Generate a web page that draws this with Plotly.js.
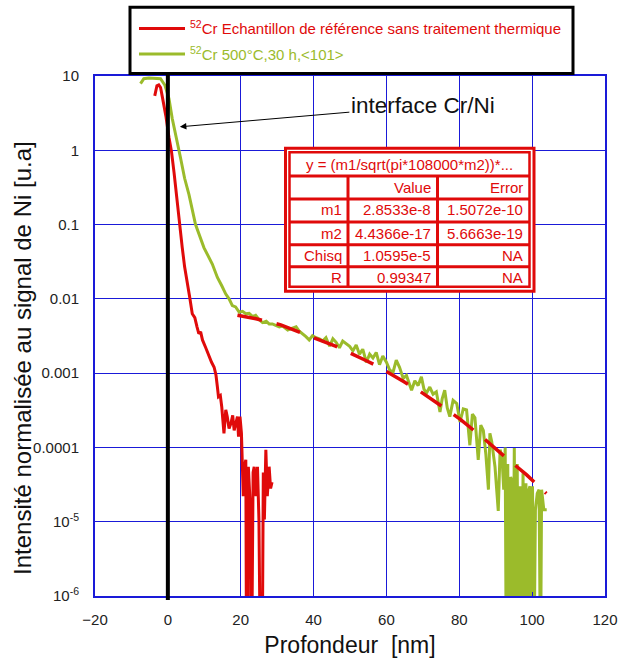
<!DOCTYPE html>
<html>
<head>
<meta charset="utf-8">
<script src="https://cdn.plot.ly/plotly-3.0.1.min.js"></script>
<style>html,body{margin:0;padding:0;background:#fff;}#chart{width:621px;height:666px;}</style>
</head>
<body>
<div id="chart"></div>
<script>
// ---------- data ----------
const xRef = [-3.6,-3.0,-2.5,-2.0,-1.5,-0.5,0.3,1.0,1.7,2.3,3.1,3.95,4.6,5.3,6.0,6.7,7.4,8.0,8.5,9.0,9.5,10.4,11.3,12.0,12.7,13.2,13.6,13.9,14.4,14.8,15.4,15.9,16.3,16.8,17.3,17.8,18.2,18.7,19.1,19.4,19.8,20.2,20.4,20.7,21.0,21.4,21.6,22.0,22.1,22.5,22.8,23.0,23.4,23.7,24.2,24.6,25.0,25.4,25.9,26.2,26.5,26.9,27.3,27.8,28.2,28.6];
const yRef = [5.4,7.4,7.6,7.0,5.2,2.8,1.5,0.96,0.5,0.255,0.11,0.049,0.027,0.0174,0.0105,0.0063,0.0056,0.0042,0.0034,0.0036,0.0028,0.0022,0.00166,0.0014,0.0012,0.00095,0.00065,0.00048,0.0005,0.00035,0.000155,0.00032,0.00026,0.00018,0.00021,0.00027,0.00017,0.00023,0.00026,0.00014,0.00026,0.000155,5.5e-5,2.2e-5,5.5e-5,6.8e-5,1e-7,1e-7,5.5e-5,2.2e-5,1.07e-5,1e-7,4.6e-5,5.5e-5,2.2e-5,5.5e-5,1.07e-5,1e-7,1e-7,4.6e-5,1.07e-5,9.3e-5,2.2e-5,5.5e-5,2.8e-5,3.4e-5];

const x500 = [-7.5,-6.6,-5.2,-3.6,-2.0,-0.8,0.3,1.2,2.1,3.5,4.6,5.8,7.6,8.8,9.9,12.2,13.6,14.8,15.9,16.8,17.7,18.6,19.6,20.5,21.4,22.3,23.2,24.1,25.0,26.0,27.0,27.8,28.7,29.6,30.6,31.5,32.9,34.0,35.2,36.0,37.0,37.9,38.8,39.7,40.7,41.6,42.5,43.4,44.4,45.3,46.2,47.1,48.0,49.0,49.9,50.8,51.7,52.6,53.5,54.5,55.4,56.3,57.2,58.1,59.0,60.0,60.9,61.8,62.7,63.6,64.6,65.5,66.9,67.8,68.7,69.6,70.3,71.0,71.9,72.8,73.7,74.7,75.3,76.0,76.7,77.4,78.3,79.3,80.2,81.1,82.0,82.9,83.6,84.3,85.2,85.9,86.6,87.3,88.0,88.4,88.9,89.8,90.7,91.2,91.7,92.2,92.6,92.9,93.3,93.7,94.1,94.4,94.7,95.1,95.5,95.9,96.3,96.7,97.1,97.5,97.9,98.3,98.7,99.1,99.4,99.7,100.1,100.5,100.9,101.4,101.9,102.3,102.6,103.2,104.0];
const y500 = [7.9,9.2,9.4,9.4,9.2,7.5,4.97,2.68,1.69,0.78,0.42,0.253,0.10,0.068,0.049,0.0294,0.0194,0.015,0.0116,0.0100,0.0081,0.0078,0.0066,0.0068,0.0063,0.0064,0.0058,0.0060,0.0053,0.0048,0.0050,0.0046,0.0046,0.0044,0.0042,0.0043,0.0038,0.0040,0.0042,0.0037,0.0034,0.0031,0.0028,0.0032,0.0030,0.0029,0.0027,0.0030,0.0023,0.0029,0.0026,0.0022,0.0027,0.0025,0.0023,0.0020,0.0024,0.0018,0.0021,0.0014,0.0018,0.0016,0.0019,0.0013,0.0017,0.0014,0.0011,0.00102,0.0015,0.0012,0.00085,0.00093,0.00059,0.00079,0.00068,0.00089,0.00061,0.00054,0.00065,0.00052,0.00056,0.00030,0.00045,0.00059,0.00034,0.00026,0.00043,0.00039,0.00022,0.00033,0.00032,0.000107,0.00028,0.00025,6.8e-5,0.0002,0.00017,8e-5,2.7e-5,0.000155,0.00012,5.5e-5,1.4e-5,9.3e-5,7.6e-5,2.7e-5,0.0001,1e-7,6e-5,1e-7,4e-5,3.5e-5,1e-7,9.8e-5,1e-7,6e-5,1e-7,3e-5,1e-7,4.5e-5,1e-7,3.3e-5,1e-7,2.7e-5,3e-5,1e-7,3e-5,1e-7,1.45e-5,2.4e-5,2.7e-5,1e-7,2.7e-5,1.45e-5,1.45e-5];

const xFit = [19.1,24.2,31.0,35.2,42.5,46.2,53.5,57.7,64.6,69.1,75.6,80.2,87.0,91.2,98.5,102.7,103.9];
const yFit = [0.0060,0.0054,0.00447,0.00372,0.00269,0.00229,0.00155,0.00123,0.000776,0.000575,0.000347,0.00024,0.000129,8.5e-5,4.27e-5,2.69e-5,2.4e-5];

const legendNames = ["<sup>52</sup>Cr Echantillon de référence sans traitement thermique", "<sup>52</sup>Cr 500°C,30 h,&lt;101&gt;"];
const yTickVals = [10,1,0.1,0.01,0.001,0.0001,1e-5,1e-6];
const yTickText = ["10","1","0.1","0.01","0.001","0.0001","10<sup>-5</sup>","10<sup>-6</sup>"];
const xTitle = "Profondeur  [nm]";
const yTitle = "Intensité normalisée au signal de Ni [u.a]";
const interfaceLabel = "interface Cr/Ni";
const interfacePoint = {x: 3.3, y: 2.07};

const tableTitle = "y = (m1/sqrt(pi*108000*m2))*...";
const tableHeader = ["", "Value", "Error"];
const tableRowNames = ["m1","m2","Chisq","R"];
const tableValues = ["2.8533e-8","4.4366e-17","1.0595e-5","0.99347"];
const tableErrors = ["1.5072e-10","5.6663e-19","NA","NA"];

// ---------- styling / layout ----------
const RED = "#e00a0a", GREEN = "#9bbb2b", GRID = "#1a1ad8";
const FONT = "Liberation Sans, Arial, sans-serif";
const W = 621, H = 666, ML = 95, MR = 16, MT = 74, MB = 70;
const PW = W - ML - MR, PH = H - MT - MB;
const fx = p => (p - ML) / PW;
const fy = p => (H - MB - p) / PH;
const esc = s => s.replace(/</g,"&lt;").replace(/>/g,"&gt;");

const traces = [
  {x: xRef, y: yRef, type: "scatter", mode: "lines",
   name: '<span style="color:' + RED + '">' + legendNames[0] + '</span>',
   line: {color: RED, width: 3}, legendgroup: "a"},
  {x: x500, y: y500, type: "scatter", mode: "lines",
   name: '<span style="color:' + GREEN + '">' + legendNames[1] + '</span>',
   line: {color: GREEN, width: 3}, legendgroup: "b"},
  {x: xFit, y: yFit, type: "scatter", mode: "lines", showlegend: false,
   line: {color: RED, width: 3.5, dash: "25px,15px"}}
];

const shapes = [];
const annotations = [];

// black interface line at x = 0
shapes.push({type: "line", xref: "x", yref: "paper", x0: 0, x1: 0, y0: fy(600), y1: fy(66),
  line: {color: "#000", width: 4}, layer: "above"});

// legend frame
shapes.push({type: "rect", xref: "paper", yref: "paper", x0: fx(130), x1: fx(573), y0: fy(71.5), y1: fy(5),
  line: {color: "#000", width: 3}, fillcolor: "#fff", layer: "above"});

// fit table frame
shapes.push({type: "rect", xref: "paper", yref: "paper", x0: fx(285.5), x1: fx(534), y0: fy(290), y1: fy(146.5),
  line: {color: RED, width: 3}, fillcolor: "#fff", layer: "above"});
shapes.push({type: "rect", xref: "paper", yref: "paper", x0: fx(289.5), x1: fx(529.5), y0: fy(285.5), y1: fy(150.5),
  line: {color: RED, width: 2.5}, layer: "above"});
const rowLines = [174.5, 197.5, 220.5, 243.5, 265.5];
rowLines.forEach(r => shapes.push({type: "line", xref: "paper", yref: "paper", x0: fx(289.5), x1: fx(529.5), y0: fy(r), y1: fy(r),
  line: {color: RED, width: 3}, layer: "above"}));
[348, 437.5].forEach(c => shapes.push({type: "line", xref: "paper", yref: "paper", x0: fx(c), x1: fx(c), y0: fy(285.5), y1: fy(174.5),
  line: {color: RED, width: 3}, layer: "above"}));

const tfont = {family: FONT, size: 15, color: RED};
annotations.push({xref: "paper", yref: "paper", x: fx(409.5), y: fy(162.5), text: esc(tableTitle), showarrow: false,
  xanchor: "center", yanchor: "middle", font: tfont});
const rowCenters = [185.5, 208.5, 232, 254.5, 276.5];
const colRight = [344, 433, 525];
const rows = [tableHeader].concat(tableRowNames.map((n, i) => [n, tableValues[i], tableErrors[i]]));
rows.forEach((row, ri) => row.forEach((cell, ci) => {
  if (!cell) return;
  annotations.push({xref: "paper", yref: "paper", x: fx(colRight[ci]), y: fy(rowCenters[ri]), text: cell,
    showarrow: false, xanchor: "right", yanchor: "middle", font: tfont});
}));

// interface annotation
annotations.push({x: interfacePoint.x, y: Math.log10(interfacePoint.y), xref: "x", yref: "y",
  text: interfaceLabel, showarrow: true, ax: 243, ay: -21, arrowhead: 2, arrowsize: 1.3, arrowwidth: 1,
  arrowcolor: "#000", standoff: 0,
  font: {family: FONT, size: 22.5, color: "#111"}});

// y axis title
annotations.push({xref: "paper", yref: "paper", x: fx(23), y: fy(357), text: yTitle, showarrow: false,
  textangle: -90, xanchor: "center", yanchor: "middle",
  font: {family: FONT, size: 24, color: "#111"}});

const layout = {
  width: W, height: H,
  margin: {l: ML, r: MR, t: MT, b: MB, pad: 0},
  paper_bgcolor: "#fff", plot_bgcolor: "#fff",
  font: {family: FONT, size: 15, color: "#222"},
  showlegend: true,
  legend: {x: fx(134), y: fy(10), xanchor: "left", yanchor: "top", bgcolor: "rgba(0,0,0,0)", borderwidth: 0,
    font: {size: 15, family: FONT}, itemwidth: 46, traceorder: "grouped",
    tracegroupgap: 3, itemclick: false},
  xaxis: {range: [-20, 120], dtick: 20, tick0: 0, showgrid: true, gridcolor: GRID, gridwidth: 1,
    showline: true, linecolor: GRID, linewidth: 2, mirror: true, zeroline: false,
    ticks: "inside", ticklen: 4, tickcolor: GRID, ticklabelstandoff: 9,
    tickfont: {size: 15, color: "#222"},
    title: {text: xTitle, font: {size: 23, color: "#111"}, standoff: 10}},
  yaxis: {type: "log", range: [-6, 1], tickvals: yTickVals, ticktext: yTickText,
    showgrid: true, gridcolor: GRID, gridwidth: 1,
    showline: true, linecolor: GRID, linewidth: 2, mirror: true, zeroline: false,
    ticks: "inside", ticklen: 4, tickcolor: GRID, ticklabelstandoff: 11,
    tickfont: {size: 15, color: "#222"}},
  shapes: shapes,
  annotations: annotations
};

Plotly.newPlot("chart", traces, layout, {displayModeBar: false, staticPlot: true});
</script>
</body>
</html>
